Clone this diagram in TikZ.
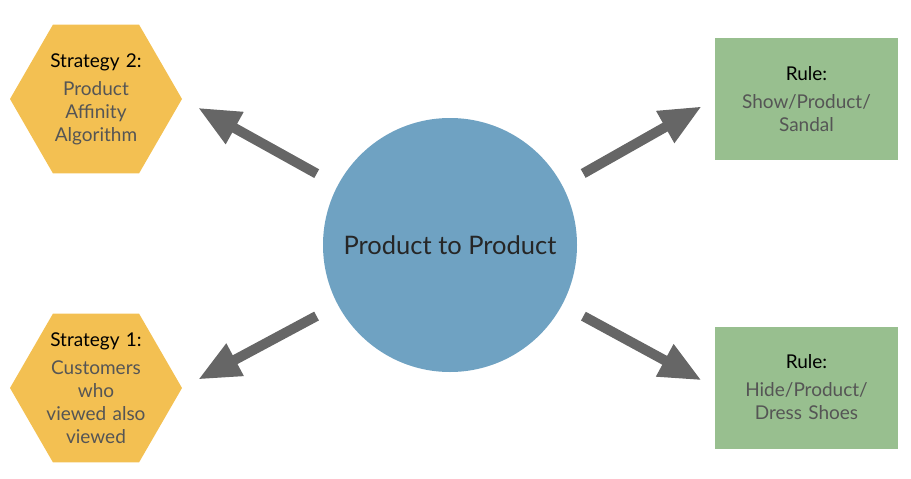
\documentclass[tikz,border=0pt]{standalone}
\usepackage{fontspec}
\setmainfont{Lato}
\usetikzlibrary{arrows.meta,positioning,shapes.geometric}
\definecolor{HexFill}{HTML}{F3C052}
\definecolor{RuleFill}{HTML}{98BF8F}
\definecolor{HubFill}{HTML}{6FA2C2}
\definecolor{ArrowGray}{HTML}{666666}
\definecolor{BodyText}{HTML}{555555}
\newcommand{\headline}[1]{{\color{black}#1}\\[5pt]}

\begin{document}
\begin{tikzpicture}[x=1pt,y=-1pt,
  hexbox/.style={regular polygon, regular polygon sides=6, minimum size=172pt,
    inner sep=-20pt, fill=HexFill, text width=112pt, align=center,
    font=\fontsize{19}{23}\selectfont, text=BodyText},
  rulebox/.style={rectangle, fill=RuleFill, minimum width=183pt, minimum height=122pt,
    text width=170pt, align=center, font=\fontsize{19}{23}\selectfont, text=BodyText},
  hub/.style={circle, fill=HubFill, minimum size=254pt, inner sep=0pt,
    font=\fontsize{25.5}{30}\selectfont, text=black!85},
  bigarrow/.style={-{Triangle[length=42pt,width=34pt]}, ArrowGray, line width=10pt}]
  \useasboundingbox (0,0) rectangle (911,479);
  \node[hub] (c) at (450,245) {Product to Product};
  \node[hexbox] (s2) at (96,99) {\headline{Strategy 2:}Product\\Affinity\\Algorithm};
  \node[hexbox] (s1) at (96,388) {\headline{Strategy 1:}Customers\\who\\viewed also\\viewed};
  \node[rulebox] (r1) at (806.5,99) {\headline{Rule:}Show/Product/\\Sandal};
  \node[rulebox] (r2) at (806.5,387.5) {\headline{Rule:}Hide/Product/\\Dress Shoes};
  \draw[bigarrow, shorten <=24pt, shorten >=18pt] (c.152) -- (s2.east);
  \draw[bigarrow, shorten <=24pt, shorten >=18pt] (c.208) -- (s1.east);
  \draw[bigarrow, shorten <=24pt, shorten >=15pt] (c.28) -- (r1.west);
  \draw[bigarrow, shorten <=24pt, shorten >=15pt] (c.-28) -- (r2.west);
\end{tikzpicture}
\end{document}
